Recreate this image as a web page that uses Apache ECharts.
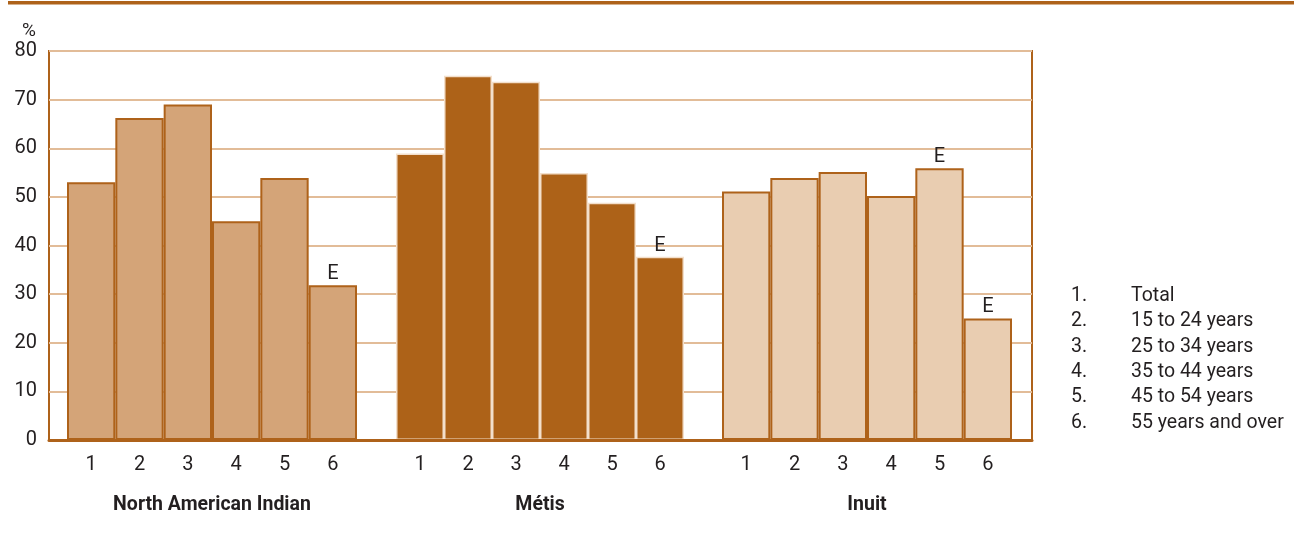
<!DOCTYPE html>
<html>
<head>
<meta charset="utf-8">
<script src="https://cdn.jsdelivr.net/npm/echarts@6/dist/echarts.min.js"></script>
<style>
html,body{margin:0;padding:0;background:#fff;}
#chart{width:1294px;height:537px;}
</style>
</head>
<body>
<div id="chart"></div>
<script>
const categories = ['1', '2', '3', '4', '5', '6'];
const groups = ['North American Indian', 'Métis', 'Inuit'];
const naiValues = [53.0, 66.2, 69.0, 45.0, 53.9, 31.8];
const metisValues = [58.9, 74.9, 73.7, 54.9, 48.8, 37.7];
const inuitValues = [51.1, 53.9, 55.1, 50.2, 55.9, 25.0];
const naiFlags = ['', '', '', '', '', 'E'];
const metisFlags = ['', '', '', '', '', 'E'];
const inuitFlags = ['', '', '', '', 'E', 'E'];
const yMin = 0, yMax = 80, yStep = 10;
const yUnit = '%';
const legendNumbers = ['1.', '2.', '3.', '4.', '5.', '6.'];
const legendLabels = ['Total', '15 to 24 years', '25 to 34 years', '35 to 44 years', '45 to 54 years', '55 years and over'];

const FONT = 'Roboto, "Liberation Sans", sans-serif';
const BROWN = '#AE621A';
const GRIDC = '#E2BC98';
const TXT = '#231F20';

const chart = echarts.init(document.getElementById('chart'), null, {renderer: 'canvas'});

const groupValues = [naiValues, metisValues, inuitValues];
const groupFlags = [naiFlags, metisFlags, inuitFlags];
const fills = ['#D4A478', '#AD6218', '#E9CDB1'];
const borders = [BROWN, '#F3DFCB', BROWN];
const borderWidths = [2, 1.5, 2];
const subGrids = [
  {left: 67, width: 290},
  {left: 396, width: 288},
  {left: 722, width: 290}
];

const grids = [{left: 49, right: 262, top: 51, bottom: 97, show: true, borderColor: BROWN, borderWidth: 2, backgroundColor: 'transparent'}];
const xAxes = [{
  gridIndex: 0, type: 'value', min: 0, max: 1, z: 10,
  axisLine: {show: true, lineStyle: {color: BROWN, width: 3}},
  axisTick: {show: false}, axisLabel: {show: false}, splitLine: {show: false}
}];
const yAxes = [{
  gridIndex: 0, type: 'value', min: yMin, max: yMax, interval: yStep,
  name: yUnit, nameLocation: 'end', nameGap: 9,
  nameTextStyle: {fontFamily: FONT, fontSize: 19, color: TXT, align: 'right', padding: [0, 13, 0, 0]},
  axisLine: {show: false}, axisTick: {show: false},
  axisLabel: {fontFamily: FONT, fontSize: 20, color: TXT, margin: 12},
  splitLine: {show: true, lineStyle: {color: GRIDC, width: 2}}
}];
const series = [];

groups.forEach((g, i) => {
  grids.push({left: subGrids[i].left, width: subGrids[i].width, top: 51, bottom: 97});
  xAxes.push({
    gridIndex: i + 1, type: 'category', data: categories,
    name: g, nameLocation: 'middle', nameGap: 55,
    nameTextStyle: {fontFamily: FONT, fontSize: 19.5, fontWeight: 'bold', color: TXT},
    axisLine: {show: false}, axisTick: {show: false},
    axisLabel: {fontFamily: FONT, fontSize: 20, color: TXT, margin: 15}
  });
  yAxes.push({gridIndex: i + 1, type: 'value', min: yMin, max: yMax, interval: yStep, show: false, splitLine: {show: false}});
  series.push({
    type: 'bar', xAxisIndex: i + 1, yAxisIndex: i + 1,
    barCategoryGap: 0, z: 3,
    data: groupValues[i].map((v, k) => ({value: v, flag: groupFlags[i][k]})),
    itemStyle: {color: fills[i], borderColor: borders[i], borderWidth: borderWidths[i]},
    label: {
      show: true, position: 'top', distance: 1,
      fontFamily: FONT, fontSize: 20, color: TXT,
      formatter: p => p.data.flag
    }
  });
});

const graphics = [{
  type: 'rect', left: 8, top: 1, shape: {width: 1286, height: 3.5}, style: {fill: BROWN}
}];
legendNumbers.forEach((n, i) => {
  graphics.push({type: 'text', left: 1071, top: 286 + i * 25.4, style: {text: n, font: '19.5px ' + FONT, fill: TXT}});
  graphics.push({type: 'text', left: 1131, top: 286 + i * 25.4, style: {text: legendLabels[i], font: '19.5px ' + FONT, fill: TXT}});
});

chart.setOption({
  animation: false,
  backgroundColor: '#fff',
  grid: grids,
  xAxis: xAxes,
  yAxis: yAxes,
  series: series,
  graphic: graphics
});
</script>
</body>
</html>
